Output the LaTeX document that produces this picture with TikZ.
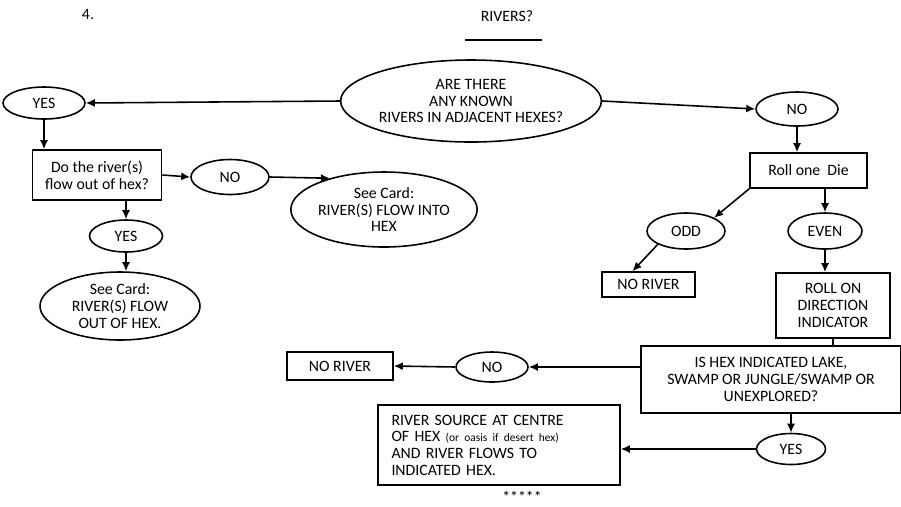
\documentclass[tikz,border=0pt]{standalone}
\usepackage{fontspec}
\setmainfont{Carlito}
\usepackage{tikz}
\usetikzlibrary{shapes.geometric,arrows.meta}

\tikzset{
  oval/.style={ellipse, draw, line width=0.9pt, inner sep=0pt, align=center},
  box/.style={rectangle, draw, line width=0.9pt, inner sep=2pt, align=center},
  link/.style={line width=0.9pt, -{Latex[length=1.8mm,width=1.6mm]}},
}

\begin{document}
\begin{tikzpicture}[font=\fontsize{9}{9.5}\selectfont]
  \useasboundingbox (0cm,0cm) rectangle (18.02cm,-10.12cm);
  \node (four) at (1.76cm,-0.28cm) {4.};
  \node (title) at (10.14cm,-0.32cm) {RIVERS?};
  \draw[line width=0.6pt] (9.3cm,-0.8cm) -- (10.84cm,-0.8cm);

  \node[oval, minimum width=5cm, minimum height=1.64cm] (known) at (9.42cm,-2.02cm) {ARE THERE\\ANY KNOWN\\RIVERS IN ADJACENT HEXES?};
  \node[oval, minimum width=1.64cm, minimum height=0.64cm] (yesA) at (0.88cm,-2.06cm) {YES};
  \node[oval, minimum width=1.64cm, minimum height=0.68cm] (noA) at (15.94cm,-2.18cm) {NO};

  \node[box, minimum width=2.58cm, minimum height=1cm] (flowq) at (1.94cm,-3.5cm) {Do the river(s)\\flow out of hex?};
  \node[oval, minimum width=1.56cm, minimum height=0.7cm] (noB) at (4.6cm,-3.54cm) {NO};
  \node[oval, minimum width=3.48cm, minimum height=1.5cm] (cardin) at (7.68cm,-4.19cm) {See Card:\\RIVER(S) FLOW INTO\\HEX};
  \node[oval, minimum width=1.46cm, minimum height=0.64cm] (yesB) at (2.52cm,-4.72cm) {YES};
  \node[oval, minimum width=3.2cm, minimum height=1.36cm] (cardout) at (2.4cm,-6.12cm) {See Card:\\RIVER(S) FLOW\\OUT OF HEX.};

  \node[box, minimum width=2.34cm, minimum height=0.7cm] (rolldie) at (16.17cm,-3.41cm) {Roll one \ Die};
  \node[oval, minimum width=1.56cm, minimum height=0.72cm] (odd) at (13.72cm,-4.62cm) {ODD};
  \node[oval, minimum width=1.48cm, minimum height=0.72cm] (even) at (16.5cm,-4.62cm) {EVEN};
  \node[box, minimum width=1.86cm, minimum height=0.5cm] (noriverA) at (12.97cm,-5.69cm) {NO RIVER};
  \node[box, minimum width=2.28cm, minimum height=1.3cm] (rolldir) at (16.66cm,-6.11cm) {ROLL ON\\DIRECTION\\INDICATOR};

  \node[box, minimum width=5.2cm, minimum height=1.34cm] (lakeq) at (15.42cm,-7.59cm) {IS HEX INDICATED LAKE,\\SWAMP OR JUNGLE/SWAMP OR\\UNEXPLORED?};
  \node[oval, minimum width=1.44cm, minimum height=0.6cm] (noC) at (9.84cm,-7.34cm) {NO};
  \node[box, minimum width=2.12cm, minimum height=0.56cm] (noriverB) at (6.8cm,-7.32cm) {NO RIVER};
  \node[oval, minimum width=1.38cm, minimum height=0.62cm] (yesC) at (15.82cm,-8.98cm) {YES};
  \node[box, minimum width=4.84cm, minimum height=1.6cm, align=left, text width=4.3cm] (source) at (9.98cm,-8.9cm) {RIVER SOURCE AT CENTRE\\OF HEX {\fontsize{6.5}{7}\selectfont(or oasis if desert hex)}\\AND RIVER FLOWS TO\\INDICATED HEX.};
  \node[inner sep=0pt] (stars) at (10.44cm,-9.94cm) {*****};

  \draw[link] (known.west) -- (yesA.east);
  \draw[link] (known.east) -- (noA.west);
  \draw[link] (yesA.south) -- (yesA.south |- flowq.north);
  \draw[link] (flowq.east) -- (noB.west);
  \draw[link] (noB.east) -- (cardin.150);
  \draw[link] (yesB.north |- flowq.south) -- (yesB.north);
  \draw[link] (yesB.south) -- (yesB.south |- cardout.north);
  \draw[link] (noA.south) -- (noA.south |- rolldie.north);
  \draw[link] (rolldie.south west) -- (odd.north east);
  \draw[link] (even.north |- rolldie.south) -- (even.north);
  \draw[link] (odd.south west) -- ([xshift=-0.32cm]noriverA.north);
  \draw[link] (even.south) -- (even.south |- rolldir.north);
  \draw[line width=0.9pt] (rolldir.south) -- (rolldir.south |- lakeq.north);
  \draw[link] (lakeq.west |- noC.east) -- (noC.east);
  \draw[link] (noC.west) -- (noriverB.east);
  \draw[link] (yesC.north |- lakeq.south) -- (yesC.north);
  \draw[link] (yesC.west) -- (yesC.west -| source.east);
\end{tikzpicture}
\end{document}
